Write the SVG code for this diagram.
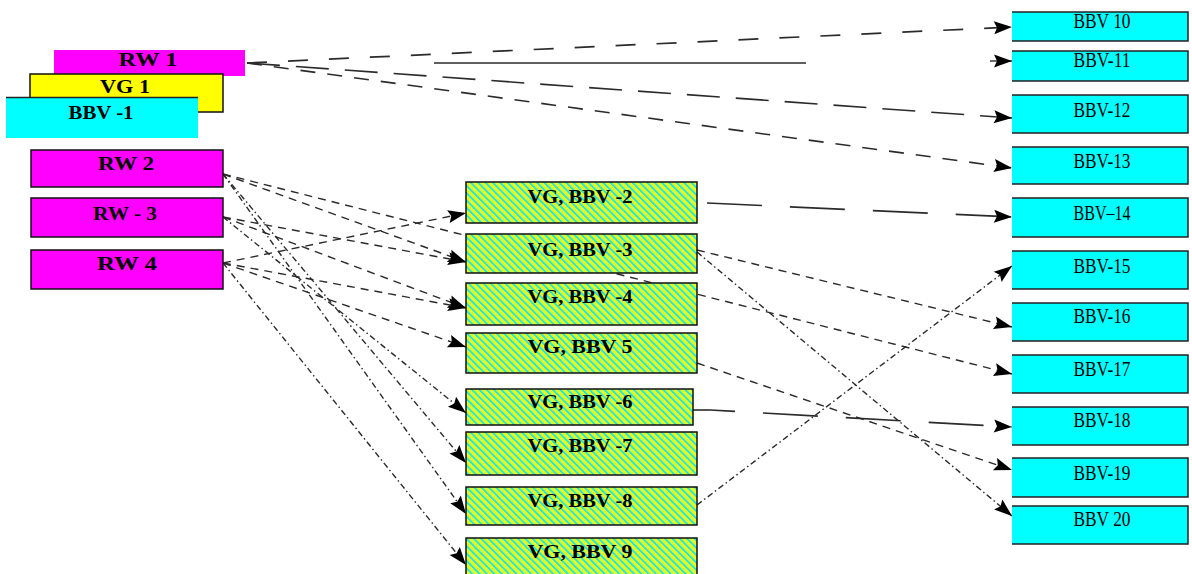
<svg xmlns="http://www.w3.org/2000/svg" width="1192" height="574" viewBox="0 0 1192 574">
  <defs>
    <style>
      .lbl { font-family: "Liberation Serif", "Times New Roman", serif; font-size: 18px; font-weight: bold; text-anchor: middle; fill: #000; }
      .r { font-size: 20px; font-weight: normal; }
      .rw { fill: #ff00ff; stroke: #111; stroke-width: 1.5; }
      .vg { fill: url(#hatch); stroke: #111; stroke-width: 1.5; }
      .bbv { fill: #00ffff; }
      .edge { fill: none; stroke: #222; stroke-width: 1.5; }
      .c { fill: none; stroke: #2b2b2b; stroke-width: 1.4; marker-end: url(#ah); }
      .plain { fill: none; stroke: #2b2b2b; stroke-width: 1.6; }
      .long { stroke-dasharray: 20 21; stroke-width: 1.7; }
      .long2 { stroke-dasharray: 55 28; stroke-width: 1.7; }
      .med { stroke-dasharray: 33 16; stroke-width: 1.6; }
      .short { stroke-dasharray: 15 12; stroke-width: 1.6; }
      .dash { stroke-dasharray: 8 6; }
      .dd { stroke-dasharray: 6 3 1.5 3; }
    </style>
    <pattern id="hatch" width="5.2" height="5.2" patternUnits="userSpaceOnUse" patternTransform="rotate(-45)">
      <rect width="5.2" height="5.2" fill="#ffff00"/>
      <rect width="2" height="5.2" fill="#1ee6e6"/>
      <circle cx="3.6" cy="1.3" r="0.6" fill="#7fefa0"/>
      <circle cx="3.6" cy="3.9" r="0.6" fill="#7fefa0"/>
    </pattern>
    <marker id="ah" markerWidth="19" markerHeight="16" refX="18" refY="8" orient="auto" markerUnits="userSpaceOnUse" overflow="visible">
      <path d="M0,1.5 L18,8 L0,14.5 L3,8 z" fill="#000"/>
    </marker>
  </defs>

  <!-- connectors -->
  <g id="connectors">
    <path class="c long" d="M247,63 L1012,27"/>
    <path class="plain" d="M434,63 L806,63"/>
    <path class="c" d="M990,61 L1012,61"/>
    <path class="c med" d="M247,63 L1012,118"/>
    <path class="c short" d="M247,63 L1012,168"/>

    <path class="c dash" d="M223,174 L1012,374"/>
    <path class="c dash" d="M223,174 L466,262"/>
    <path class="c dash" d="M223,217 L466,262"/>
    <path class="c dash" d="M223,217 L466,308"/>
    <path class="c dash" d="M223,263 L466,213"/>
    <path class="c dash" d="M223,263 L466,308"/>
    <path class="c dash" d="M223,263 L466,347"/>
    <path class="c dd" d="M223,217 L466,413"/>
    <path class="c dd" d="M223,174 L466,463"/>
    <path class="c dd" d="M223,174 L466,514"/>
    <path class="c dd" d="M223,263 L466,565"/>

    <path class="c long2" d="M707,203 L1012,217"/>
    <path class="c dash" d="M697,250 L1012,327"/>
    <path class="c dd" d="M697,252 L1012,516"/>
    <path class="c dash" d="M697,363 L1012,470"/>
    <path class="plain" d="M693,410 L710,410"/>
    <path class="c long2" d="M710,410 L1012,427" stroke-dashoffset="30"/>
    <path class="c dd" d="M697,505 L1012,266"/>
  </g>

  <!-- left column -->
  <g id="rw1">
    <rect x="54" y="50" width="191" height="26" fill="#ff00ff"/>
    <text class="lbl" x="148" y="66" textLength="59" lengthAdjust="spacingAndGlyphs">RW 1</text>
  </g>
  <g id="vg1">
    <rect x="30" y="74" width="193" height="38" fill="#ffff00" stroke="#111" stroke-width="1.5"/>
    <text class="lbl" x="125" y="93" textLength="50" lengthAdjust="spacingAndGlyphs">VG 1</text>
  </g>
  <g id="bbv1">
    <rect class="bbv" x="6" y="97" width="192" height="41"/>
    <path class="edge" d="M6,97.5 H198"/>
    <text class="lbl" x="101" y="119" textLength="65" lengthAdjust="spacingAndGlyphs">BBV -1</text>
  </g>
  <g id="rw2">
    <rect class="rw" x="31" y="150" width="192" height="37"/>
    <text class="lbl" x="126" y="170" textLength="56" lengthAdjust="spacingAndGlyphs">RW 2</text>
  </g>
  <g id="rw3">
    <rect class="rw" x="31" y="198" width="192" height="39"/>
    <text class="lbl" x="125" y="220" textLength="64" lengthAdjust="spacingAndGlyphs">RW - 3</text>
  </g>
  <g id="rw4">
    <rect class="rw" x="31" y="250" width="192" height="39"/>
    <text class="lbl" x="127" y="270" textLength="60" lengthAdjust="spacingAndGlyphs">RW 4</text>
  </g>

  <!-- middle column -->
  <g id="vgbbv2">
    <rect class="vg" x="466" y="182" width="231" height="41"/>
    <text class="lbl" x="580" y="203" textLength="105" lengthAdjust="spacingAndGlyphs">VG, BBV -2</text>
  </g>
  <g id="vgbbv3">
    <rect class="vg" x="466" y="234" width="231" height="39"/>
    <text class="lbl" x="580" y="256" textLength="105" lengthAdjust="spacingAndGlyphs">VG, BBV -3</text>
  </g>
  <g id="vgbbv4">
    <rect class="vg" x="466" y="283" width="231" height="42"/>
    <text class="lbl" x="580" y="303" textLength="105" lengthAdjust="spacingAndGlyphs">VG, BBV -4</text>
  </g>
  <g id="vgbbv5">
    <rect class="vg" x="466" y="333" width="231" height="40"/>
    <text class="lbl" x="580" y="353" textLength="105" lengthAdjust="spacingAndGlyphs">VG, BBV 5</text>
  </g>
  <g id="vgbbv6">
    <rect class="vg" x="466" y="389" width="227" height="36"/>
    <text class="lbl" x="580" y="408" textLength="105" lengthAdjust="spacingAndGlyphs">VG, BBV -6</text>
  </g>
  <g id="vgbbv7">
    <rect class="vg" x="466" y="432" width="231" height="43"/>
    <text class="lbl" x="580" y="452" textLength="105" lengthAdjust="spacingAndGlyphs">VG, BBV -7</text>
  </g>
  <g id="vgbbv8">
    <rect class="vg" x="466" y="487" width="231" height="38"/>
    <text class="lbl" x="580" y="507" textLength="105" lengthAdjust="spacingAndGlyphs">VG, BBV -8</text>
  </g>
  <g id="vgbbv9">
    <rect class="vg" x="466" y="538" width="231" height="40"/>
    <text class="lbl" x="580" y="558" textLength="105" lengthAdjust="spacingAndGlyphs">VG, BBV 9</text>
  </g>

  <!-- right column -->
  <g id="bbv10">
    <rect class="bbv" x="1012" y="12" width="176" height="29"/>
    <path class="edge" d="M1012,12 H1188 V41 H1012"/>
    <text class="lbl r" x="1102" y="28" textLength="57" lengthAdjust="spacingAndGlyphs">BBV 10</text>
  </g>
  <g id="bbv11">
    <rect class="bbv" x="1012" y="51" width="176" height="30"/>
    <path class="edge" d="M1012,51 H1188 V81 H1012"/>
    <text class="lbl r" x="1102" y="67" textLength="57" lengthAdjust="spacingAndGlyphs">BBV-11</text>
  </g>
  <g id="bbv12">
    <rect class="bbv" x="1012" y="95" width="176" height="38"/>
    <path class="edge" d="M1012,95 H1188 V133 H1012"/>
    <text class="lbl r" x="1102" y="117" textLength="57" lengthAdjust="spacingAndGlyphs">BBV-12</text>
  </g>
  <g id="bbv13">
    <rect class="bbv" x="1012" y="147" width="176" height="37"/>
    <path class="edge" d="M1012,147 H1188 V184 H1012"/>
    <text class="lbl r" x="1102" y="168" textLength="57" lengthAdjust="spacingAndGlyphs">BBV-13</text>
  </g>
  <g id="bbv14">
    <rect class="bbv" x="1012" y="198" width="176" height="39"/>
    <path class="edge" d="M1012,198 H1188 V237 H1012"/>
    <text class="lbl r" x="1102" y="220" textLength="57" lengthAdjust="spacingAndGlyphs">BBV–14</text>
  </g>
  <g id="bbv15">
    <rect class="bbv" x="1012" y="251" width="176" height="38"/>
    <path class="edge" d="M1012,251 H1188 V289 H1012"/>
    <text class="lbl r" x="1102" y="273" textLength="57" lengthAdjust="spacingAndGlyphs">BBV-15</text>
  </g>
  <g id="bbv16">
    <rect class="bbv" x="1012" y="303" width="176" height="38"/>
    <path class="edge" d="M1012,303 H1188 V341 H1012"/>
    <text class="lbl r" x="1102" y="323" textLength="57" lengthAdjust="spacingAndGlyphs">BBV-16</text>
  </g>
  <g id="bbv17">
    <rect class="bbv" x="1012" y="355" width="176" height="38"/>
    <path class="edge" d="M1012,355 H1188 V393 H1012"/>
    <text class="lbl r" x="1102" y="376" textLength="57" lengthAdjust="spacingAndGlyphs">BBV-17</text>
  </g>
  <g id="bbv18">
    <rect class="bbv" x="1012" y="407" width="176" height="38"/>
    <path class="edge" d="M1012,407 H1188 V445 H1012"/>
    <text class="lbl r" x="1102" y="427" textLength="57" lengthAdjust="spacingAndGlyphs">BBV-18</text>
  </g>
  <g id="bbv19">
    <rect class="bbv" x="1012" y="458" width="176" height="39"/>
    <path class="edge" d="M1012,458 H1188 V497 H1012"/>
    <text class="lbl r" x="1102" y="480" textLength="57" lengthAdjust="spacingAndGlyphs">BBV-19</text>
  </g>
  <g id="bbv20">
    <rect class="bbv" x="1012" y="506" width="176" height="38"/>
    <path class="edge" d="M1012,506 H1188 V544 H1012"/>
    <text class="lbl r" x="1102" y="526" textLength="57" lengthAdjust="spacingAndGlyphs">BBV 20</text>
  </g>
</svg>
